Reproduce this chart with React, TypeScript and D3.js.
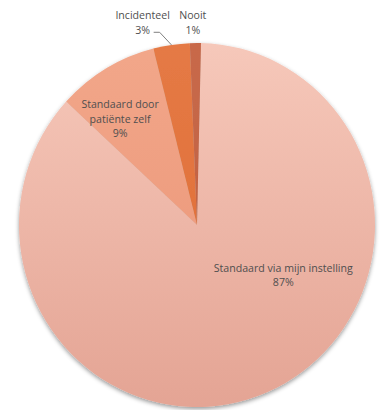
import React from "react";
import * as d3 from "d3";

const categories = [
  "Standaard via mijn instelling",
  "Standaard door patiënte zelf",
  "Incidenteel",
  "Nooit",
];
const values = [86.5, 9.2, 3.3, 1.0];
const labelLines = [
  ["Standaard via mijn instelling"],
  ["Standaard door", "patiënte zelf"],
  ["Incidenteel"],
  ["Nooit"],
];
const sliceTop = ["#f6c8ba", "#f2a78a", "#e57a45", "#c8694a"];
const sliceBottom = ["#e4a494", "#ea9274", "#de6a34", "#bc5c3c"];

// label layout: radius factor + nudges, leader line flag
const labelLayout = [
  { f: 0.5, dx: 51.5, dy: -34, leader: false },
  { f: 0.72, dx: -11.4, dy: 6.5, leader: false },
  { f: 1.0, dx: -28.8, dy: -22.6, leader: true },
  { f: 1.0, dx: -2.6, dy: -20.5, leader: false },
];

const W = 384;
const H = 410;
const cx = 197;
const cy = 225;
const ry = 182;
const rx = 178;
const a0 = Math.asin(4 / rx);

export default function App() {
  const pie = d3
    .pie<number>()
    .sort(null)
    .startAngle(a0)
    .endAngle(a0 + 2 * Math.PI)
    .value((d) => d);
  const arcs = pie(values);
  const arcGen = d3.arc<d3.PieArcDatum<number>>().innerRadius(0).outerRadius(ry);
  const sx = rx / ry;
  const lineH = 14.5;

  const pt = (ang: number, f: number) => [
    cx + rx * f * Math.sin(ang),
    cy - ry * f * Math.cos(ang),
  ];

  return (
    <svg
      width={W}
      height={H}
      style={{ position: "absolute", left: 0, top: 0, background: "#fff" }}
    >
      <defs>
        <filter id="sh" x="-10%" y="-10%" width="120%" height="125%">
          <feDropShadow dx="0" dy="2" stdDeviation="2.2" floodColor="#000" floodOpacity="0.4" />
        </filter>
        {sliceTop.map((c, i) => (
          <linearGradient
            key={i}
            id={`g${i}`}
            gradientUnits="userSpaceOnUse"
            x1="0"
            y1={-ry}
            x2="0"
            y2={ry}
          >
            <stop offset="0" stopColor={c} />
            <stop offset="1" stopColor={sliceBottom[i]} />
          </linearGradient>
        ))}
      </defs>
      <g transform={`translate(${cx},${cy}) scale(${sx},1)`} filter="url(#sh)">
        {arcs.map((a, i) => (
          <path key={categories[i]} d={arcGen(a) || ""} fill={`url(#g${i})`} />
        ))}
      </g>
      {arcs.map((a, i) => {
        const L = labelLayout[i];
        const mid = (a.startAngle + a.endAngle) / 2;
        const [px, py] = pt(mid, L.f);
        const bx = px + L.dx;
        const by = py + L.dy;
        const lines = [...labelLines[i], `${Math.round(values[i])}%`];
        const y0 = by - ((lines.length - 1) * lineH) / 2;
        const [ex, ey] = pt(mid, 1);
        return (
          <g key={categories[i]}>
            {L.leader && (
              <polyline
                points={`${ex},${ey} ${bx + 17},${by + 10} ${bx + 11},${by + 10}`}
                fill="none"
                stroke="#7f7f7f"
                strokeWidth={1}
              />
            )}
            {lines.map((t, j) => (
              <text
                key={j}
                x={bx}
                y={y0 + j * lineH}
                textAnchor="middle"
                dominantBaseline="central"
                fontFamily="'Open Sans', sans-serif"
                fontSize={10.6}
                fill="#4f4f4f"
              >
                {t}
              </text>
            ))}
          </g>
        );
      })}
    </svg>
  );
}
